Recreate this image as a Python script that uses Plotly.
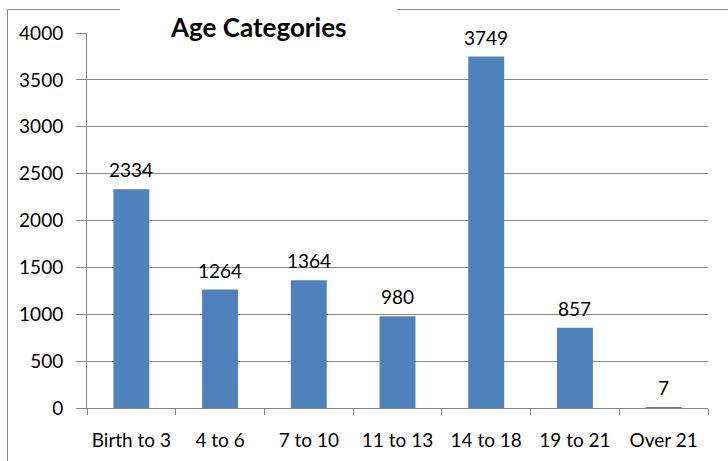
import plotly.graph_objects as go

categories = ["Birth to 3", "4 to 6", "7 to 10", "11 to 13", "14 to 18", "19 to 21", "Over 21"]
values = [2334, 1264, 1364, 980, 3749, 857, 7]
title_text = "Age Categories"

W, H = 728, 461
L, R, T, B = 87, 20, 33, 53
pw, ph = W - L - R, H - T - B

def px_x(p):
    return (p - L) / pw

def px_y(p):
    return (H - B - p) / ph

FONT = "Lato, 'Open Sans', sans-serif"
GRID = "#868686"
FS = 19

fig = go.Figure(go.Bar(
    x=categories, y=values,
    marker=dict(color="#4F81BD", line=dict(width=0)),
    cliponaxis=False,
))

label_annotations = [
    dict(text=str(v), x=c, y=v, xref="x", yref="y",
         xanchor="center", yanchor="bottom", yshift=6,
         showarrow=False, font=dict(family=FONT, size=FS, color="#000000"))
    for c, v in zip(categories, values)
]

fig.update_layout(
    width=W, height=H,
    margin=dict(l=L, r=R, t=T, b=B, autoexpand=False),
    paper_bgcolor="white", plot_bgcolor="white",
    bargap=0.595,
    showlegend=False,
    font=dict(family=FONT, size=FS, color="#000000"),
    xaxis=dict(
        type="category",
        automargin=False,
        showgrid=False,
        showline=True, linecolor=GRID, linewidth=1,
        ticks="outside", tickson="boundaries", ticklen=6, tickcolor=GRID,
        tickfont=dict(family=FONT, size=FS, color="#000000"),
        ticklabelstandoff=15,
    ),
    yaxis=dict(
        range=[0, 4000], dtick=500,
        automargin=False,
        showgrid=True, gridcolor=GRID, gridwidth=1,
        showline=True, linecolor=GRID, linewidth=1,
        ticks="outside", ticklen=10, tickcolor=GRID,
        tickfont=dict(family=FONT, size=FS, color="#000000"),
        ticklabelstandoff=9,
        zeroline=False,
    ),
    shapes=[
        dict(type="line", xref="paper", yref="paper",
             x0=px_x(7.5), x1=px_x(7.5), y0=px_y(9.5), y1=px_y(H + 5),
             line=dict(color=GRID, width=1), layer="above"),
        dict(type="line", xref="paper", yref="paper",
             x0=px_x(7.5), x1=px_x(W + 5), y0=px_y(9.5), y1=px_y(9.5),
             line=dict(color=GRID, width=1), layer="above"),
        dict(type="rect", xref="paper", yref="paper",
             x0=px_x(120), x1=px_x(397), y0=px_y(0), y1=px_y(34.5),
             fillcolor="white", line=dict(width=0), layer="above"),
    ],
    annotations=label_annotations + [
        dict(text="<b>" + title_text + "</b>", xref="paper", yref="paper",
             x=px_x(258), y=px_y(27), xanchor="center", yanchor="middle",
             showarrow=False, font=dict(family=FONT, size=26, color="#000000")),
    ],
)

fig.write_html("out.html", config={"displayModeBar": False},
               post_script="document.body.style.margin='0';")
